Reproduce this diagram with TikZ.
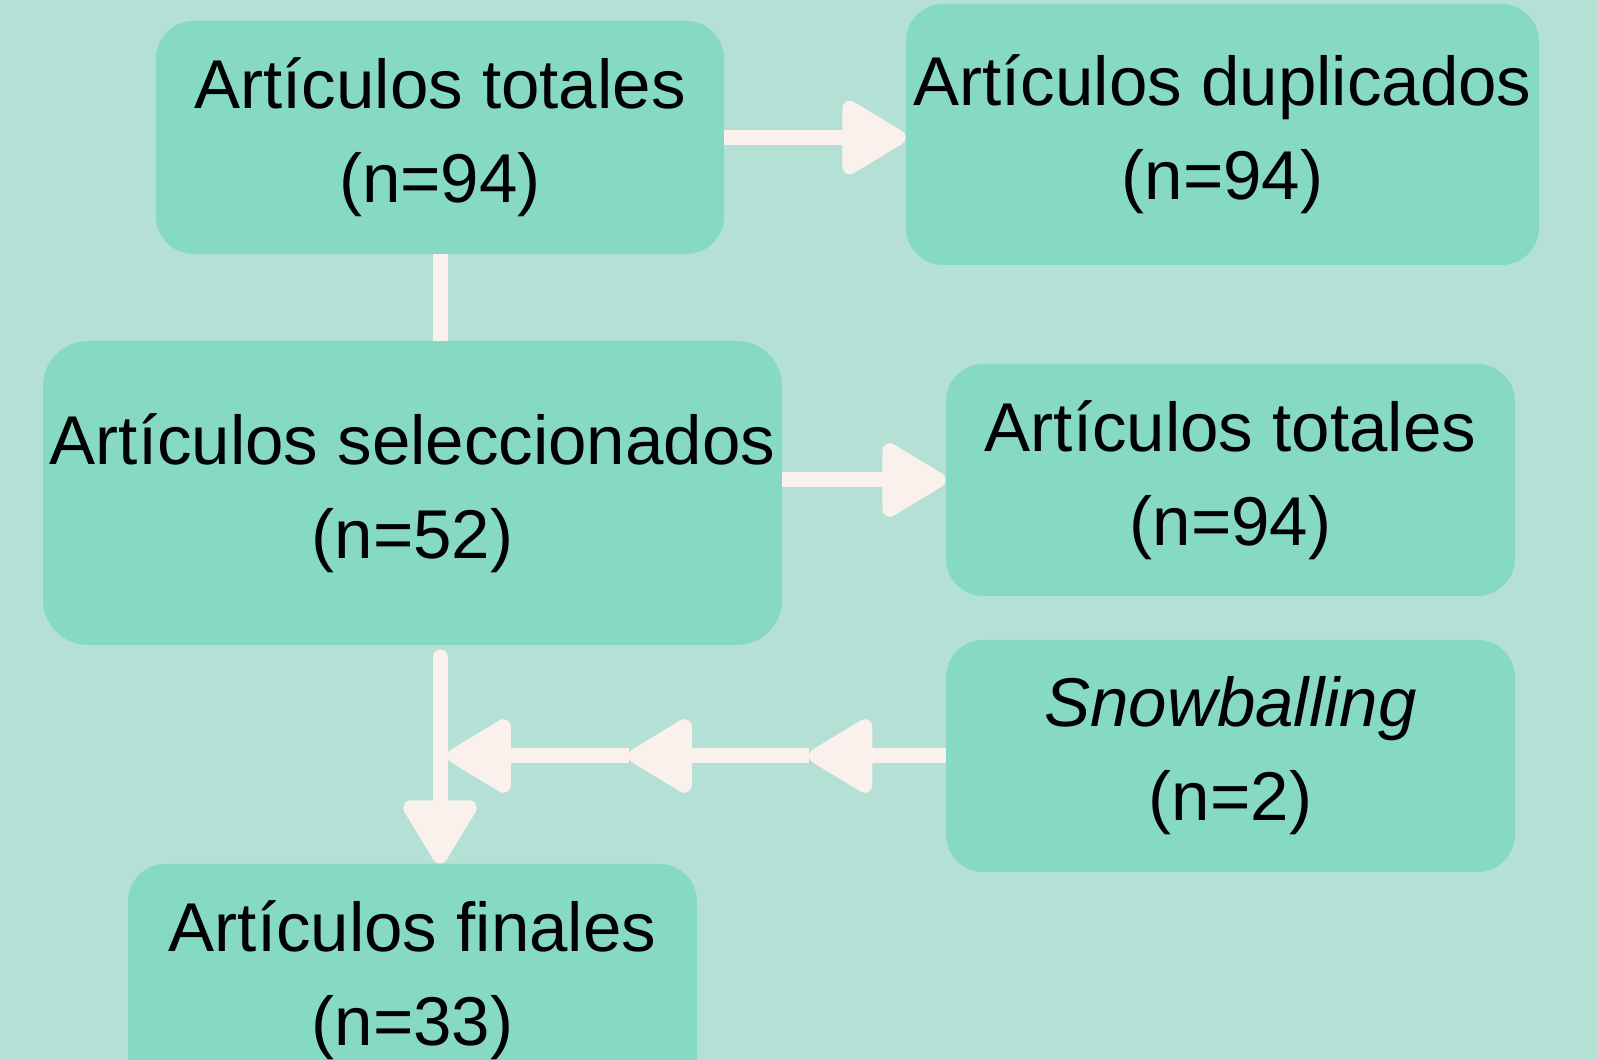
\documentclass[tikz,border=0pt]{standalone}
\usepackage{fontspec}
\setmainfont{Liberation Sans}
\usepackage{xcolor}
\usetikzlibrary{shapes,arrows.meta,positioning,calc,backgrounds}
\definecolor{fondo}{HTML}{B5E0D5}
\definecolor{caja}{HTML}{86D9C3}
\definecolor{flecha}{HTML}{FAF1EC}

\begin{document}
\begin{tikzpicture}
  \tikzstyle{paso}=[rectangle, fill=caja, rounded corners=0.75cm, align=center, font=\fontsize{39.3pt}{53.5pt}\selectfont, minimum width=11.38cm, minimum height=4.64cm, inner sep=0pt]
  \tikzstyle{flujo}=[line width=0.3cm, draw=flecha, -{Triangle[length=1.42cm, width=1.62cm, round]}]
  \tikzstyle{union}=[line width=0.3cm, draw=flecha]

  % Fondo
  \useasboundingbox (0,0) rectangle (31.94,21.2);
  \fill[fondo] (0,0) rectangle (31.94,21.2);
  \clip (0,0) rectangle (31.94,21.2);

  % Cajas
  \node[paso, minimum width=11.36cm, minimum height=4.66cm] (tot) at (8.80,18.45) {Artículos totales\\(n=94)};
  \node[paso, minimum width=12.66cm, minimum height=5.22cm] (dup) at (24.45,18.51) {Artículos duplicados\\(n=94)};
  \node[paso, minimum width=14.78cm, minimum height=6.08cm, rounded corners=0.9cm] (sel) at (8.25,11.34) {Artículos seleccionados\\(n=52)};
  \node[paso] (tot2) at (24.61,11.60) {Artículos totales\\(n=94)};
  \node[paso] (snow) at (24.61,6.08) {\textit{Snowballing}\\(n=2)};
  \node[paso] (fin) at (8.25,1.60) {Artículos finales\\(n=33)};

  % Puntos auxiliares
  \coordinate (ini) at (8.80,8.06);
  \coordinate (s1) at (16.18,6.08);
  \coordinate (s2) at (12.57,6.08);
  \coordinate (s3) at (8.95,6.08);

  % Conexiones
  \draw[flujo] (tot.east) -- (tot.east -| dup.west);
  \draw[union] (tot.south) -- (tot.south |- sel.north);
  \draw[flujo] (sel.east |- tot2.west) -- (tot2.west);
  \draw[flujo, line cap=round] (ini) -- (ini |- fin.north);

  % Snowballing
  \draw[flujo] (snow.west) -- (s1);
  \draw[flujo] (s1) -- (s2);
  \draw[flujo] (s2) -- (s3);
\end{tikzpicture}
\end{document}
